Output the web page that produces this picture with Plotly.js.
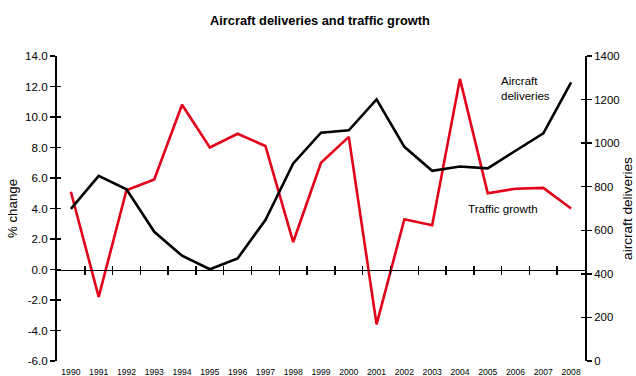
<!DOCTYPE html>
<html>
<head>
<meta charset="utf-8">
<script src="https://cdn.plot.ly/plotly-3.0.1.min.js"></script>
<style>html,body{margin:0;padding:0;background:#fff;}#chart{width:636px;height:376px;}</style>
</head>
<body>
<div id="chart"></div>
<script>
// Data
const years = [1990,1991,1992,1993,1994,1995,1996,1997,1998,1999,2000,2001,2002,2003,2004,2005,2006,2007,2008];
const trafficGrowth = [5.1,-1.8,5.2,5.9,10.8,8.0,8.9,8.1,1.8,7.0,8.7,-3.6,3.3,2.9,12.5,5.0,5.3,5.35,4.0];
const aircraftDeliveries = [698,850,788,593,483,421,471,647,907,1048,1059,1201,983,873,893,884,965,1045,1279];
const leftTickVals = [-6,-4,-2,0,2,4,6,8,10,12,14];
const leftTickText = ['-6.0','-4.0','-2.0','0.0','2.0','4.0','6.0','8.0','10.0','12.0','14.0'];
const rightTickVals = [0,200,400,600,800,1000,1200,1400];
const betweenYears = years.slice(0,-1).map(y => y + 0.5);

const FONT = 'Liberation Sans, Arial, Helvetica, sans-serif';
const RED = '#e2001a';

const traces = [
  {x: years, y: aircraftDeliveries, yaxis: 'y2', mode: 'lines', line: {color: '#000', width: 2.6}, hoverinfo: 'skip'},
  {x: years, y: trafficGrowth, yaxis: 'y', mode: 'lines', line: {color: RED, width: 2.6}, hoverinfo: 'skip'}
];

const layout = {
  width: 636, height: 376,
  margin: {l: 57, r: 51, t: 56, b: 15, pad: 0},
  paper_bgcolor: '#fff', plot_bgcolor: '#fff',
  showlegend: false,
  font: {family: FONT, color: '#000', size: 12},
  title: {text: 'Aircraft deliveries and traffic growth', x: 0.503, xref: 'container', y: 0.945, yref: 'container', yanchor: 'middle',
          font: {family: FONT, size: 12.8, weight: 'bold', color: '#000'}},
  xaxis: {range: [1989.5, 2008.5], tickvals: years, ticks: '', showline: false, showgrid: false, zeroline: false,
          tickfont: {family: FONT, size: 8.6}, ticklabelstandoff: 4},
  xaxis2: {overlaying: 'x', matches: 'x', anchor: 'free', position: 0.3, range: [1989.5, 2008.5], tickvals: betweenYears,
           ticks: 'outside', ticklen: 4, tickwidth: 1.5, tickcolor: '#000', showticklabels: false,
           showline: true, linewidth: 1.5, linecolor: '#000', showgrid: false, zeroline: false},
  xaxis3: {overlaying: 'x', matches: 'x', anchor: 'free', position: 0.3, range: [1989.5, 2008.5], tickvals: betweenYears,
           ticks: 'inside', ticklen: 4, tickwidth: 1.5, tickcolor: '#000', showticklabels: false,
           showline: false, showgrid: false, zeroline: false},
  yaxis: {range: [-6, 14], tickvals: leftTickVals, ticktext: leftTickText, ticks: 'outside', ticklen: 5, tickwidth: 1.5,
          tickcolor: '#000', showline: true, linewidth: 2, linecolor: '#000', showgrid: false, zeroline: false,
          tickfont: {family: FONT, size: 11.6}, title: {text: '% change', font: {family: FONT, size: 13.3}, standoff: 4}},
  yaxis3: {overlaying: 'y', anchor: 'x', side: 'left', range: [-6, 14], tickvals: leftTickVals, ticks: 'inside', ticklen: 4,
           tickwidth: 1.5, tickcolor: '#000', showticklabels: false, showline: false, showgrid: false, zeroline: false},
  yaxis2: {overlaying: 'y', side: 'right', anchor: 'x', range: [0, 1400], tickvals: rightTickVals, ticks: 'outside', ticklen: 5,
           tickwidth: 1.5, tickcolor: '#000', showline: true, linewidth: 2, linecolor: '#000', showgrid: false, zeroline: false,
           tickfont: {family: FONT, size: 11.4}, title: {text: 'aircraft deliveries', font: {family: FONT, size: 13.6}, standoff: 4}},
  yaxis4: {overlaying: 'y', side: 'right', anchor: 'x', range: [0, 1400], tickvals: rightTickVals, ticks: 'inside', ticklen: 4,
           tickwidth: 1.5, tickcolor: '#000', showticklabels: false, showline: false, showgrid: false, zeroline: false},
  annotations: [
    {text: 'Aircraft<br>deliveries', xref: 'x', yref: 'y', x: 2005.44, y: 11.9, xanchor: 'left', yanchor: 'middle', align: 'left',
     showarrow: false, borderpad: 0, font: {family: FONT, size: 11.5, color: '#000'}},
    {text: 'Traffic growth', xref: 'x', yref: 'y', x: 2004.25, y: 4.0, xanchor: 'left', yanchor: 'middle', align: 'left',
     showarrow: false, borderpad: 0, font: {family: FONT, size: 11.6, color: '#000'}}
  ]
};

// Invisible helper traces so the overlay axes (crossing tick marks) are drawn
traces.push({x: [years[0]], y: [0], xaxis: 'x2', yaxis: 'y3', mode: 'markers', marker: {opacity: 0}, hoverinfo: 'skip'});
traces.push({x: [years[0]], y: [0], xaxis: 'x3', yaxis: 'y4', mode: 'markers', marker: {opacity: 0}, hoverinfo: 'skip'});

Plotly.newPlot('chart', traces, layout, {staticPlot: true, displayModeBar: false});
</script>
</body>
</html>
